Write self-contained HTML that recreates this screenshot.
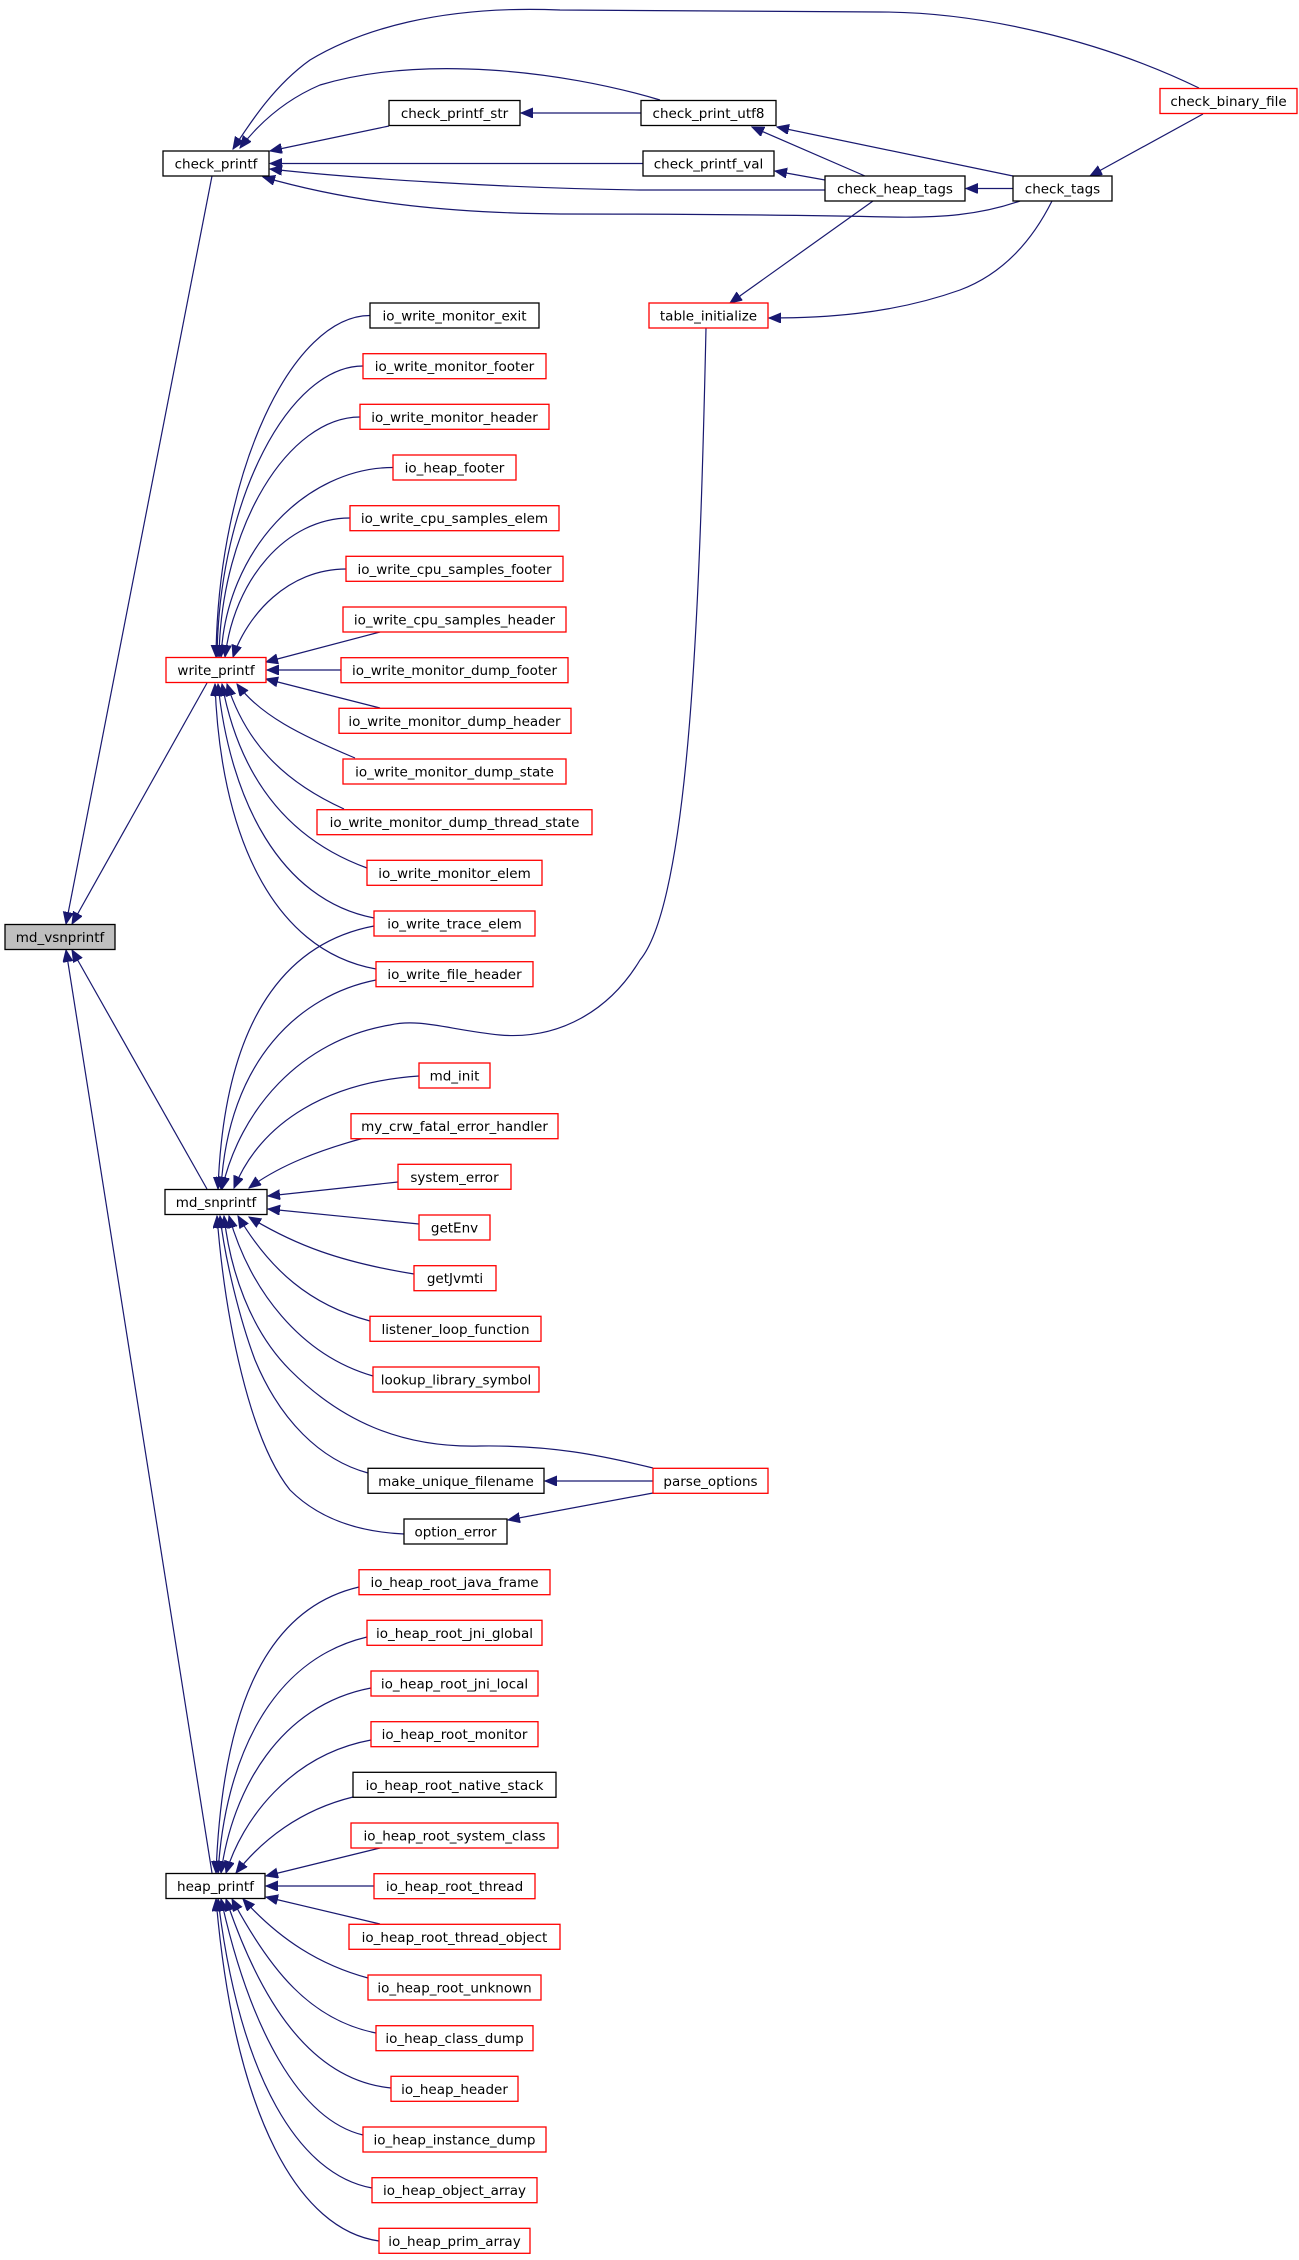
<!DOCTYPE html>
<html><head><meta charset="utf-8"><style>
html,body{margin:0;padding:0;background:#fff;}
svg{display:block;}
text{font-family:"DejaVu Sans","Liberation Sans",sans-serif;font-size:13.5px;fill:#000;text-anchor:middle;}
.e{fill:none;stroke:#191970;stroke-width:1.2;marker-end:url(#a);}
.b{fill:#fff;stroke:#000;stroke-width:1.3;}
.r{fill:#fff;stroke:#ff0000;stroke-width:1.3;}
.g{fill:#bfbfbf;stroke:#000;stroke-width:1.3;}
</style></head><body>
<svg width="1299" height="2260" viewBox="0 0 1299 2260" xmlns="http://www.w3.org/2000/svg">
<defs><marker id="a" markerUnits="userSpaceOnUse" markerWidth="13" markerHeight="11" refX="12" refY="5" orient="auto"><path d="M0,0 L12,5 L0,10 z" fill="#191970" stroke="#191970"/></marker></defs>

<!-- edges to md_vsnprintf -->
<path class="e" d="M212,176 L66,924"/>
<path class="e" d="M207,683 L72,924"/>
<path class="e" d="M207,1189 L72,950"/>
<path class="e" d="M212,1873 L66,950"/>

<!-- top edges -->
<path class="e" d="M389,126 L270,151"/>
<path class="e" d="M641,113 L521,113"/>
<path class="e" d="M660,100 C560,70 420,55 320,85 C285,100 260,122 240,148"/>
<path class="e" d="M1199,88 C1100,40 980,12 880,12 L560,10 C440,5 360,30 310,60 C275,85 252,120 233,149"/>
<path class="e" d="M643,163.5 L270,163.5"/>
<path class="e" d="M825,190 L640,190 C500,188 350,178 270,169"/>
<path class="e" d="M865,176 L752,127"/>
<path class="e" d="M825,180 L775,171"/>
<path class="e" d="M1013,188.5 L966,188.5"/>
<path class="e" d="M1013,176 L777,127"/>
<path class="e" d="M1020,201 C980,215 940,218 890,217 C800,215 700,214 560,214 C460,213 360,205 263,177"/>
<path class="e" d="M1203,114 L1090,176"/>
<path class="e" d="M873,201 L730,303"/>
<path class="e" d="M1052,201 C1030,245 1000,275 960,290 C890,315 820,318 769,318"/>
<path class="e" d="M706,328 C700,600 690,900 640,960 C610,1010 560,1040 500,1035 C450,1030 420,1018 390,1025 C300,1040 240,1110 222,1189"/>

<!-- write_printf fan -->
<path class="e" d="M370,315.5 C293,315.5 218,470 216,657"/>
<path class="e" d="M363,366 C290,366 219,497 217,657"/>
<path class="e" d="M360,417 C289,417 221,525 219,657"/>
<path class="e" d="M393,467.5 C306,467.5 226,550 221,657"/>
<path class="e" d="M350,518 C286,518 234,580 225,657"/>
<path class="e" d="M346,569 C288,569 247,615 233,657"/>
<path class="e" d="M380,632 L266,662"/>
<path class="e" d="M341,670 L267,670"/>
<path class="e" d="M380,708 L266,679"/>
<path class="e" d="M355,758 C300,735 260,715 237,684"/>
<path class="e" d="M344,809 C280,780 245,740 227,684"/>
<path class="e" d="M367,868 C290,840 240,780 222,684"/>
<path class="e" d="M374,918 C280,900 230,800 218,684"/>
<path class="e" d="M376,969 C270,950 220,830 215,684"/>

<!-- md_snprintf fan -->
<path class="e" d="M374,926 C300,940 225,1000 218,1189"/>
<path class="e" d="M376,980 C300,995 228,1060 221,1189"/>
<path class="e" d="M419,1076 C330,1082 262,1120 234,1188"/>
<path class="e" d="M364,1138 C320,1150 280,1165 249,1188"/>
<path class="e" d="M398,1182 L268,1196"/>
<path class="e" d="M419,1224 L268,1209"/>
<path class="e" d="M414,1274 C340,1262 295,1245 249,1217"/>
<path class="e" d="M370,1321 C310,1305 270,1270 238,1216"/>
<path class="e" d="M373,1376 C300,1355 250,1290 229,1216"/>
<path class="e" d="M653,1468 C600,1455 550,1445 480,1446 C400,1448 340,1420 290,1370 C250,1330 230,1270 224,1216"/>
<path class="e" d="M368,1473 C320,1460 280,1420 255,1360 C240,1320 225,1260 220,1216"/>
<path class="e" d="M404,1534 C360,1532 320,1520 290,1490 C250,1440 225,1320 217,1216"/>
<path class="e" d="M653,1481 L545,1481"/>
<path class="e" d="M653,1493 L508,1520"/>

<!-- heap_printf fan -->
<path class="e" d="M359,1587 C260,1610 222,1720 216,1873"/>
<path class="e" d="M367,1637 C270,1660 225,1760 218,1873"/>
<path class="e" d="M371,1688 C280,1705 232,1790 221,1873"/>
<path class="e" d="M371,1740 C290,1755 242,1820 226,1873"/>
<path class="e" d="M353,1797 C300,1810 262,1840 236,1873"/>
<path class="e" d="M380,1848 L266,1876"/>
<path class="e" d="M374,1886 L266,1886"/>
<path class="e" d="M380,1924 L266,1897"/>
<path class="e" d="M368,1978 C320,1965 280,1940 243,1899"/>
<path class="e" d="M376,2033 C310,2020 270,1970 232,1899"/>
<path class="e" d="M391,2088 C310,2080 260,2000 226,1899"/>
<path class="e" d="M363,2135 C300,2120 250,2030 221,1899"/>
<path class="e" d="M372,2188 C300,2175 240,2080 218,1899"/>
<path class="e" d="M379,2241 C300,2230 235,2120 216,1899"/>

<!-- nodes -->
<rect class="b" x="163" y="151" width="106" height="25"/><text x="216" y="168.5">check_printf</text>
<rect class="b" x="389" y="100.5" width="131" height="25"/><text x="454.5" y="118">check_printf_str</text>
<rect class="b" x="641" y="100.5" width="135" height="25"/><text x="708.5" y="118">check_print_utf8</text>
<rect class="b" x="643" y="151" width="131" height="25"/><text x="708.5" y="168.5">check_printf_val</text>
<rect class="b" x="825" y="176" width="140" height="25"/><text x="895" y="193.5">check_heap_tags</text>
<rect class="b" x="1013" y="176" width="99" height="25"/><text x="1062.5" y="193.5">check_tags</text>
<rect class="r" x="1160" y="88.5" width="137" height="25"/><text x="1228.5" y="106">check_binary_file</text>
<rect class="r" x="649" y="303" width="119" height="25"/><text x="708.5" y="320.5">table_initialize</text>
<rect class="g" x="5" y="924.5" width="110" height="25"/><text x="60" y="942">md_vsnprintf</text>
<rect class="r" x="166" y="657.5" width="100" height="25"/><text x="216" y="675">write_printf</text>
<rect class="b" x="165" y="1189.5" width="102" height="25"/><text x="216" y="1207">md_snprintf</text>
<rect class="b" x="166" y="1873.5" width="99" height="25"/><text x="215.5" y="1891">heap_printf</text>

<rect class="b" x="370" y="303" width="169" height="25"/><text x="454.5" y="320.5">io_write_monitor_exit</text>
<rect class="r" x="363" y="353.7" width="183" height="25"/><text x="454.5" y="371.2">io_write_monitor_footer</text>
<rect class="r" x="360" y="404.3" width="189" height="25"/><text x="454.5" y="421.8">io_write_monitor_header</text>
<rect class="r" x="393" y="455" width="123" height="25"/><text x="454.5" y="472.5">io_heap_footer</text>
<rect class="r" x="350" y="505.7" width="209" height="25"/><text x="454.5" y="523.2">io_write_cpu_samples_elem</text>
<rect class="r" x="346" y="556.3" width="217" height="25"/><text x="454.5" y="573.8">io_write_cpu_samples_footer</text>
<rect class="r" x="343" y="607" width="223" height="25"/><text x="454.5" y="624.5">io_write_cpu_samples_header</text>
<rect class="r" x="341" y="657.7" width="227" height="25"/><text x="454.5" y="675.2">io_write_monitor_dump_footer</text>
<rect class="r" x="339" y="708.3" width="232" height="25"/><text x="454.5" y="725.8">io_write_monitor_dump_header</text>
<rect class="r" x="343" y="759" width="223" height="25"/><text x="454.5" y="776.5">io_write_monitor_dump_state</text>
<rect class="r" x="317" y="809.7" width="275" height="25"/><text x="454.5" y="827.2">io_write_monitor_dump_thread_state</text>
<rect class="r" x="367" y="860.3" width="175" height="25"/><text x="454.5" y="877.8">io_write_monitor_elem</text>
<rect class="r" x="374" y="911" width="161" height="25"/><text x="454.5" y="928.5">io_write_trace_elem</text>
<rect class="r" x="376" y="961.7" width="157" height="25"/><text x="454.5" y="979.2">io_write_file_header</text>

<rect class="r" x="419" y="1063" width="71" height="25"/><text x="454.5" y="1080.5">md_init</text>
<rect class="r" x="351" y="1113.7" width="207" height="25"/><text x="454.5" y="1131.2">my_crw_fatal_error_handler</text>
<rect class="r" x="398" y="1164.3" width="113" height="25"/><text x="454.5" y="1181.8">system_error</text>
<rect class="r" x="419" y="1215" width="71" height="25"/><text x="454.5" y="1232.5">getEnv</text>
<rect class="r" x="414" y="1265.7" width="82" height="25"/><text x="455" y="1283.2">getJvmti</text>
<rect class="r" x="370" y="1316.3" width="171" height="25"/><text x="455.5" y="1333.8">listener_loop_function</text>
<rect class="r" x="373" y="1367" width="166" height="25"/><text x="456" y="1384.5">lookup_library_symbol</text>
<rect class="b" x="368" y="1468.3" width="176" height="25"/><text x="456" y="1485.8">make_unique_filename</text>
<rect class="b" x="404" y="1519" width="103" height="25"/><text x="455.5" y="1536.5">option_error</text>
<rect class="r" x="653" y="1468.3" width="115" height="25"/><text x="710.5" y="1485.8">parse_options</text>

<rect class="r" x="359" y="1569.7" width="191" height="25"/><text x="454.5" y="1587.2">io_heap_root_java_frame</text>
<rect class="r" x="367" y="1620.3" width="175" height="25"/><text x="454.5" y="1637.8">io_heap_root_jni_global</text>
<rect class="r" x="371" y="1671" width="167" height="25"/><text x="454.5" y="1688.5">io_heap_root_jni_local</text>
<rect class="r" x="371" y="1721.7" width="167" height="25"/><text x="454.5" y="1739.2">io_heap_root_monitor</text>
<rect class="b" x="353" y="1772.3" width="203" height="25"/><text x="454.5" y="1789.8">io_heap_root_native_stack</text>
<rect class="r" x="351" y="1823" width="207" height="25"/><text x="454.5" y="1840.5">io_heap_root_system_class</text>
<rect class="r" x="374" y="1873.7" width="161" height="25"/><text x="454.5" y="1891.2">io_heap_root_thread</text>
<rect class="r" x="349" y="1924.3" width="211" height="25"/><text x="454.5" y="1941.8">io_heap_root_thread_object</text>
<rect class="r" x="368" y="1975" width="173" height="25"/><text x="454.5" y="1992.5">io_heap_root_unknown</text>
<rect class="r" x="376" y="2025.7" width="157" height="25"/><text x="454.5" y="2043.2">io_heap_class_dump</text>
<rect class="r" x="391" y="2076.3" width="127" height="25"/><text x="454.5" y="2093.8">io_heap_header</text>
<rect class="r" x="363" y="2127" width="183" height="25"/><text x="454.5" y="2144.5">io_heap_instance_dump</text>
<rect class="r" x="372" y="2177.7" width="165" height="25"/><text x="454.5" y="2195.2">io_heap_object_array</text>
<rect class="r" x="379" y="2228.3" width="151" height="25"/><text x="454.5" y="2245.8">io_heap_prim_array</text>
</svg>
</body></html>
